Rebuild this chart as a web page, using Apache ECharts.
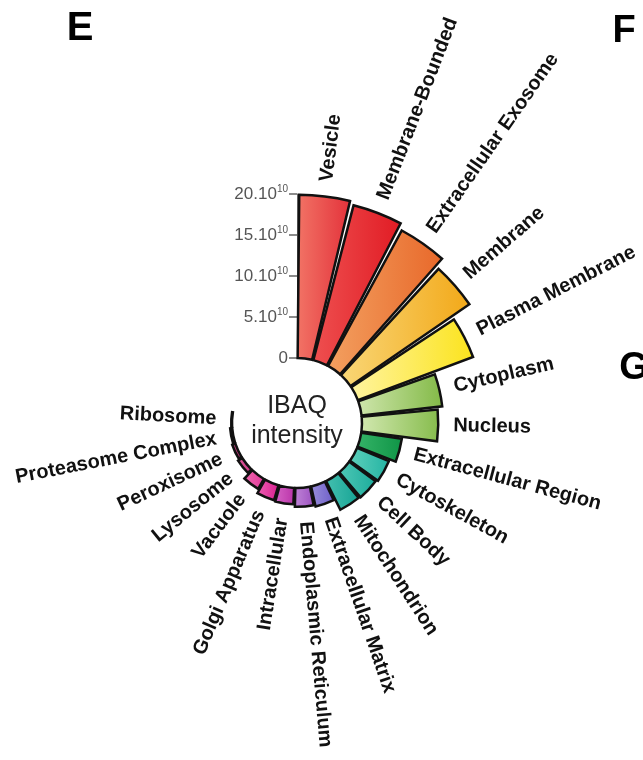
<!DOCTYPE html>
<html>
<head>
<meta charset="utf-8">
<title>IBAQ intensity</title>
<script src="https://cdn.jsdelivr.net/npm/echarts@6/dist/echarts.min.js"></script>
<style>
  html, body { margin: 0; padding: 0; background: #fff; }
  #main { width: 643px; height: 760px; }
</style>
</head>
<body>
<div id="main"></div>
<script>
// cellular components, clockwise from 12 o'clock
var categories = ['Vesicle', 'Membrane-Bounded', 'Extracellular Exosome', 'Membrane',
    'Plasma Membrane', 'Cytoplasm', 'Nucleus', 'Extracellular Region', 'Cytoskeleton',
    'Cell Body', 'Mitochondrion', 'Extracellular Matrix', 'Endoplasmic Reticulum',
    'Intracellular', 'Golgi Apparatus', 'Vacuole', 'Lysosome', 'Peroxisome',
    'Proteasome Complex', 'Ribosome'];
// IBAQ intensity, in units of 10^10
var intensity = [19.9, 19.5, 18.8, 17.6, 15.0, 9.9, 9.3, 5.0, 4.2, 4.0, 3.9, 2.5, 2.3,
    2.0, 1.9, 1.4, 0.6, 0.4, 0.25, 0.1];
var tickValues = [0, 5, 10, 15, 20];
var tickLabels = ['0', '5.10', '10.10', '15.10', '20.10'];

// light / saturated end of each bar's gradient
var palette = [
    ['#f27466', '#e3313a'], ['#ee5050', '#e11b24'], ['#f3a060', '#e8682a'],
    ['#f9d777', '#f2a818'], ['#fff4a0', '#fbe31c'], ['#cfe6ad', '#82b946'],
    ['#d2e8b0', '#86bc4c'], ['#35b468', '#0f9446'], ['#5fd0bc', '#22b3a2'],
    ['#4fc8b6', '#1bab9b'], ['#45c0b0', '#15a394'], ['#9a90dc', '#6c5cc6'],
    ['#c186d8', '#9a4fbf'], ['#d665c6', '#b932a8'], ['#ee62b4', '#d81c8e'],
    ['#ef6aae', '#e2379a'], ['#dd5c9c', '#cf3585'], ['#cc4c8a', '#b82a72'],
    ['#a8306a', '#961c5a'], ['#8a2458', '#7a1a4a']
];

var font = 'Liberation Sans, Arial, sans-serif';
var chart = echarts.init(document.getElementById('main'));

var barData = intensity.map(function (v, i) {
    return {
        value: v,
        itemStyle: {
            color: new echarts.graphic.LinearGradient(0, 0, 1, 0, [
                { offset: 0, color: palette[i][0] },
                { offset: 1, color: palette[i][1] }
            ])
        }
    };
});

// label anchors: [bar value, category index]
var labelData = intensity.map(function (v, i) { return [v, i]; });

// radial name labels, placed a little beyond each bar's end
function renderLabel(params, api) {
    var cs = params.coordSys;
    var p = api.coord([api.value(0), api.value(1)]);
    var ang = Math.atan2(cs.cy - p[1], p[0] - cs.cx);
    var gap = 15;
    var x = p[0] + gap * Math.cos(ang);
    var y = p[1] - gap * Math.sin(ang);
    var right = Math.cos(ang) >= -0.01;
    return {
        type: 'text',
        x: x,
        y: y,
        rotation: right ? ang : ang - Math.PI,
        style: {
            text: categories[params.dataIndex],
            align: right ? 'left' : 'right',
            verticalAlign: 'middle',
            fontSize: 20,
            fontWeight: 'bold',
            fontFamily: font,
            fill: '#111'
        }
    };
}

chart.setOption({
    backgroundColor: '#fff',
    polar: {
        center: [297, 423],
        radius: [65, 229]
    },
    angleAxis: {
        type: 'category',
        data: categories,
        startAngle: 90,
        endAngle: -190,
        axisLine: { show: false },
        axisTick: { show: false },
        axisLabel: { show: false },
        splitLine: { show: false }
    },
    radiusAxis: {
        type: 'value',
        min: 0,
        max: 20,
        interval: 5,
        axisLine: { show: true, lineStyle: { color: '#666', width: 1 } },
        axisTick: { show: true, length: 8, lineStyle: { color: '#666', width: 1.5 } },
        splitLine: { show: false },
        axisLabel: {
            margin: 9,
            fontFamily: font,
            formatter: function (v) {
                var t = tickLabels[tickValues.indexOf(v)];
                return v === 0 ? '{n|' + t + '}' : '{n|' + t + '}{s|10}';
            },
            rich: {
                n: { fontSize: 17, color: '#555', fontFamily: font },
                s: { fontSize: 10, color: '#555', fontFamily: font, padding: [0, 0, 9, 0] }
            }
        },
        z: 1
    },
    series: [{
        type: 'bar',
        coordinateSystem: 'polar',
        data: barData,
        barCategoryGap: '8%',
        itemStyle: { borderColor: '#111', borderWidth: 2.5 },
        z: 3
    }, {
        type: 'custom',
        coordinateSystem: 'polar',
        data: labelData,
        encode: { radius: 0, angle: 1 },
        renderItem: renderLabel,
        silent: true,
        z: 4
    }],
    graphic: [
        { type: 'text', x: 297, y: 421, style: {
            text: 'IBAQ\nintensity', align: 'center', verticalAlign: 'middle',
            fontSize: 25, lineHeight: 30, fontFamily: font, fill: '#222' } },
        { type: 'text', x: 80, y: 29, style: { text: 'E', align: 'center', verticalAlign: 'middle',
            fontSize: 40, fontWeight: 'bold', fontFamily: font, fill: '#000' } },
        { type: 'text', x: 624, y: 32, style: { text: 'F', align: 'center', verticalAlign: 'middle',
            fontSize: 38, fontWeight: 'bold', fontFamily: font, fill: '#000' } },
        { type: 'text', x: 634, y: 369, style: { text: 'G', align: 'center', verticalAlign: 'middle',
            fontSize: 38, fontWeight: 'bold', fontFamily: font, fill: '#000' } }
    ]
});
</script>
</body>
</html>
